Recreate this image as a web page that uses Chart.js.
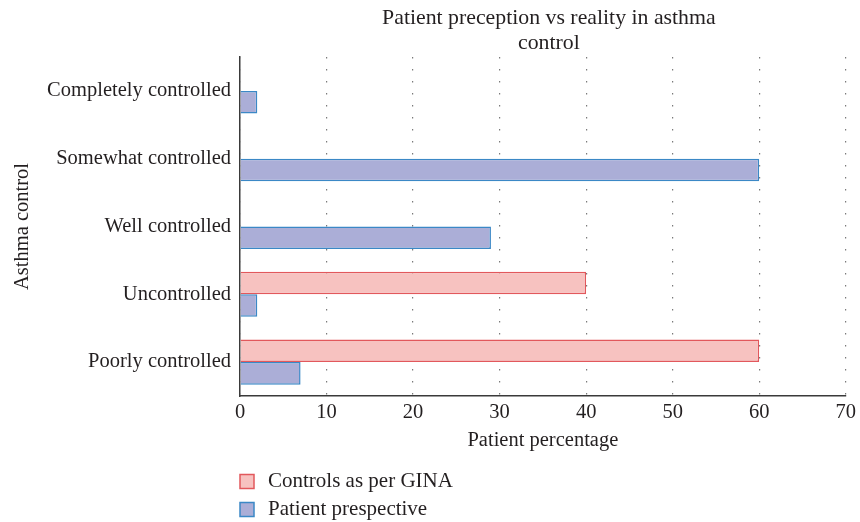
<!DOCTYPE html>
<html>
<head>
<meta charset="utf-8">
<script src="https://cdn.jsdelivr.net/npm/chart.js@4/dist/chart.umd.min.js"></script>
<style>
html,body{margin:0;padding:0;background:#fff;}
#wrap{width:860px;height:522px;position:relative;}
</style>
</head>
<body>
<div id="wrap"><canvas id="c" width="860" height="522"></canvas></div>
<script>
const categories = ["Completely controlled", "Somewhat controlled", "Well controlled", "Uncontrolled", "Poorly controlled"];
const ginaControls = [0, 0, 0, 40, 60];
const patientPerspective = [2, 60, 29, 2, 7];
const seriesNames = ["Controls as per GINA", "Patient prespective"];
const titleLines = ["Patient preception vs reality in asthma", "control"];
const xTitle = "Patient percentage";
const yTitle = "Asthma control";

const FONT = "'Liberation Serif', 'DejaVu Serif', serif";
const FS = 20.5;
const TXT = '#231f20';

const overlay = {
  id: 'overlay',
  afterDraw(chart) {
    const ctx = chart.ctx;
    const ca = chart.chartArea;
    ctx.save();
    ctx.fillStyle = TXT;
    ctx.font = '21.8px ' + FONT;
    ctx.textAlign = 'center';
    ctx.textBaseline = 'middle';
    const cx = (ca.left + ca.right) / 2 + 6;
    ctx.fillText(titleLines[0], cx, 18);
    ctx.fillText(titleLines[1], cx, 43);
    // legend
    ctx.font = '21px ' + FONT;
    const ys = [481.5, 509.5];
    chart.data.datasets.forEach((ds, i) => {
      const y = ys[i];
      ctx.fillStyle = ds.backgroundColor;
      ctx.fillRect(240, y - 7, 14, 14);
      ctx.strokeStyle = ds.borderColor;
      ctx.lineWidth = 1.5;
      ctx.strokeRect(240, y - 7, 14, 14);
      ctx.fillStyle = TXT;
      ctx.textAlign = 'left';
      ctx.fillText(ds.label, 268, y);
    });
    ctx.restore();
  }
};

new Chart(document.getElementById('c'), {
  type: 'bar',
  data: {
    labels: categories,
    datasets: [
      {
        label: seriesNames[0],
        data: ginaControls,
        backgroundColor: '#f7c2c0',
        borderColor: '#e2585c',
        borderWidth: 1.5,
        barPercentage: 1,
        categoryPercentage: 0.665
      },
      {
        label: seriesNames[1],
        data: patientPerspective,
        backgroundColor: '#abaed7',
        borderColor: '#3b88c6',
        borderWidth: 1.5,
        barPercentage: 1,
        categoryPercentage: 0.665
      }
    ]
  },
  options: {
    indexAxis: 'y',
    responsive: false,
    animation: false,
    layout: { padding: { top: 57, bottom: 66, left: 0, right: 14 } },
    plugins: {
      legend: { display: false },
      title: { display: false },
      tooltip: { enabled: false }
    },
    scales: {
      x: {
        min: 0,
        max: 70,
        ticks: { stepSize: 10, color: TXT, font: { family: FONT, size: FS }, padding: 4, maxRotation: 0 },
        grid: {
          drawTicks: false,
          color: '#7a7a7a',
          lineWidth: 1.2
        },
        border: { display: true, color: '#3a3a3a', width: 1.5, dash: [1.5, 10.5] },
        title: { display: true, text: xTitle, color: TXT, font: { family: FONT, size: FS }, padding: { top: 0, bottom: 3 } },
        afterFit(scale) { scale.height = 60; }
      },
      y: {
        ticks: { color: TXT, font: { family: FONT, size: FS }, padding: 9 },
        grid: { display: false, drawTicks: false },
        border: { display: true, color: '#3a3a3a', width: 1.5 },
        title: { display: true, text: yTitle, color: TXT, font: { family: FONT, size: FS }, padding: { top: 10, bottom: 0 } },
        afterFit(scale) { scale.width = 240; }
      }
    }
  },
  plugins: [overlay]
});
</script>
</body>
</html>
